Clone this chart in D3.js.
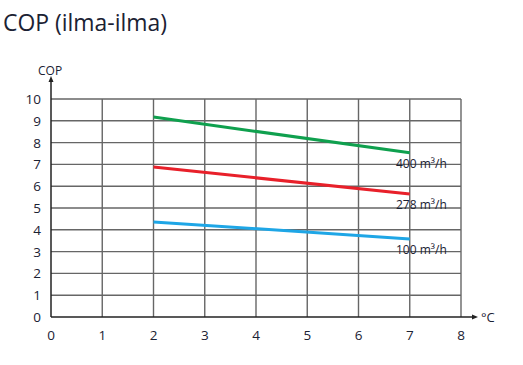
<!DOCTYPE html>
<html>
<head>
<meta charset="utf-8">
<script src="https://cdn.jsdelivr.net/npm/d3@7"></script>
<style>
  body { margin: 0; background: #fff; }
  text { font-family: "Open Sans", sans-serif; }
</style>
</head>
<body>
<script>
var xTicks = [0, 1, 2, 3, 4, 5, 6, 7, 8];
var yTicks = [0, 1, 2, 3, 4, 5, 6, 7, 8, 9, 10];
var temps = [2, 7];
var series = ['400 m³/h', '278 m³/h', '100 m³/h'];
var cop400 = [9.17, 7.53];
var cop278 = [6.88, 5.64];
var cop100 = [4.36, 3.58];
var colors = ['#0fa04e', '#e8202a', '#1ea6e6'];

var width = 523, height = 365;

var svg = d3.select('body').append('svg')
  .attr('width', width)
  .attr('height', height);

var x = d3.scaleLinear().domain([0, 8]).range([51, 461]);
var y = d3.scaleLinear().domain([0, 10]).range([317, 99]);

svg.append('text')
  .attr('x', 3).attr('y', 31)
  .attr('font-size', 24)
  .attr('textLength', 164)
  .attr('lengthAdjust', 'spacingAndGlyphs')
  .attr('fill', '#1b2233')
  .text('COP (ilma-ilma)');

// grid
svg.append('g').selectAll('line.h')
  .data(yTicks.slice(1))
  .enter().append('line')
  .attr('x1', x(0)).attr('x2', x(8))
  .attr('y1', function(d) { return y(d); })
  .attr('y2', function(d) { return y(d); })
  .attr('stroke', '#666').attr('stroke-width', 1.4);

svg.append('g').selectAll('line.v')
  .data(xTicks.slice(1))
  .enter().append('line')
  .attr('y1', y(0)).attr('y2', y(10))
  .attr('x1', function(d) { return x(d); })
  .attr('x2', function(d) { return x(d); })
  .attr('stroke', '#666').attr('stroke-width', 1.4);

// axes
svg.append('line')
  .attr('x1', x(0)).attr('x2', x(0))
  .attr('y1', y(0)).attr('y2', 80)
  .attr('stroke', '#222').attr('stroke-width', 1.5);
svg.append('path')
  .attr('d', 'M' + (x(0) - 2.5) + ',82 L' + x(0) + ',76 L' + (x(0) + 2.5) + ',82 Z')
  .attr('fill', '#222');
svg.append('line')
  .attr('x1', x(0)).attr('x2', 474)
  .attr('y1', y(0)).attr('y2', y(0))
  .attr('stroke', '#222').attr('stroke-width', 1.5);
svg.append('path')
  .attr('d', 'M472,' + (y(0) - 2.5) + ' L478,' + y(0) + ' L472,' + (y(0) + 2.5) + ' Z')
  .attr('fill', '#222');

svg.append('g').selectAll('text')
  .data(yTicks)
  .enter().append('text')
  .attr('x', 41)
  .attr('y', function(d) { return y(d) + 5; })
  .attr('text-anchor', 'end')
  .attr('font-size', 13.5)
  .attr('fill', '#1b2233')
  .text(function(d) { return d; });

svg.append('g').selectAll('text')
  .data(xTicks)
  .enter().append('text')
  .attr('x', function(d) { return x(d); })
  .attr('y', 340)
  .attr('text-anchor', 'middle')
  .attr('font-size', 13.5)
  .attr('fill', '#1b2233')
  .text(function(d) { return d; });

svg.append('text')
  .attr('x', 38).attr('y', 75)
  .attr('font-size', 12)
  .attr('fill', '#1b2233')
  .text('COP');

svg.append('text')
  .attr('x', 481).attr('y', 322)
  .attr('font-size', 13)
  .attr('fill', '#1b2233')
  .text('°C');

// series lines
var line = d3.line()
  .x(function(d, i) { return x(temps[i]); })
  .y(function(d) { return y(d); });

[cop400, cop278, cop100].forEach(function(vals, i) {
  svg.append('path')
    .attr('d', line(vals))
    .attr('fill', 'none')
    .attr('stroke', colors[i])
    .attr('stroke-width', 3);
  svg.append('text')
    .attr('x', 396)
    .attr('y', y(vals[1]) + 15)
    .attr('font-size', 12)
    .attr('fill', '#1b2233')
    .text(series[i]);
});
</script>
</body>
</html>
